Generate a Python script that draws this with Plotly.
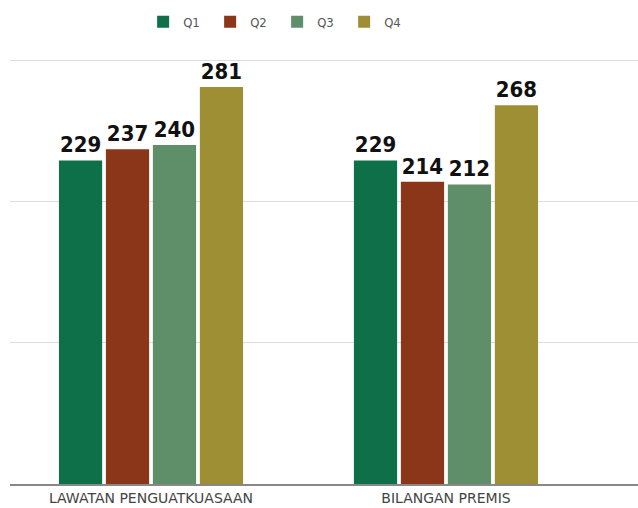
import plotly.graph_objects as go

categories = ["LAWATAN PENGUATKUASAAN", "BILANGAN PREMIS"]
series_names = ["Q1", "Q2", "Q3", "Q4"]
q1 = [229, 229]
q2 = [237, 214]
q3 = [240, 212]
q4 = [281, 268]
values = [q1, q2, q3, q4]
colors = ["#0e7049", "#8b3519", "#5e8f69", "#9f8f34"]

fig = go.Figure()
for name, vals, col in zip(series_names, values, colors):
    fig.add_trace(go.Bar(
        x=categories, y=vals, name=name,
        marker=dict(color=col, line=dict(width=0)),
        text=[str(v) for v in vals], textposition="outside",
        textfont=dict(family="DejaVu Sans Condensed, Liberation Sans Narrow, sans-serif",
                      size=22, color="#111111", weight="bold"),
        cliponaxis=False,
    ))

fig.update_layout(
    width=638, height=508,
    margin=dict(l=10, r=0, t=46, b=24, autoexpand=False),
    paper_bgcolor="white", plot_bgcolor="white",
    barmode="group", bargap=0.363, bargroupgap=0.08,
    showlegend=True,
    legend=dict(orientation="h", x=0.212, xanchor="left", y=0.957, yanchor="middle",
                yref="container", xref="paper",
                font=dict(family="Liberation Sans Narrow, DejaVu Sans Condensed, sans-serif",
                          size=13, color="#555555"),
                entrywidth=22, entrywidthmode="pixels", traceorder="normal"),
    font=dict(family="Liberation Sans Narrow, DejaVu Sans Condensed, sans-serif"),
)
fig.update_xaxes(range=[-0.478, 1.651], showline=True, linecolor="#888888", linewidth=2,
                 automargin=False, ticks="", ticklabelstandoff=0,
                 tickfont=dict(size=14, color="#444444",
                               family="DejaVu Sans, sans-serif"))
fig.update_yaxes(range=[0, 310], showticklabels=False, showgrid=True, gridcolor="#dddddd",
                 gridwidth=1, dtick=100, zeroline=False, automargin=False)

fig.write_html("out.html", config={"displayModeBar": False},
               post_script="document.body.style.margin='0';")
